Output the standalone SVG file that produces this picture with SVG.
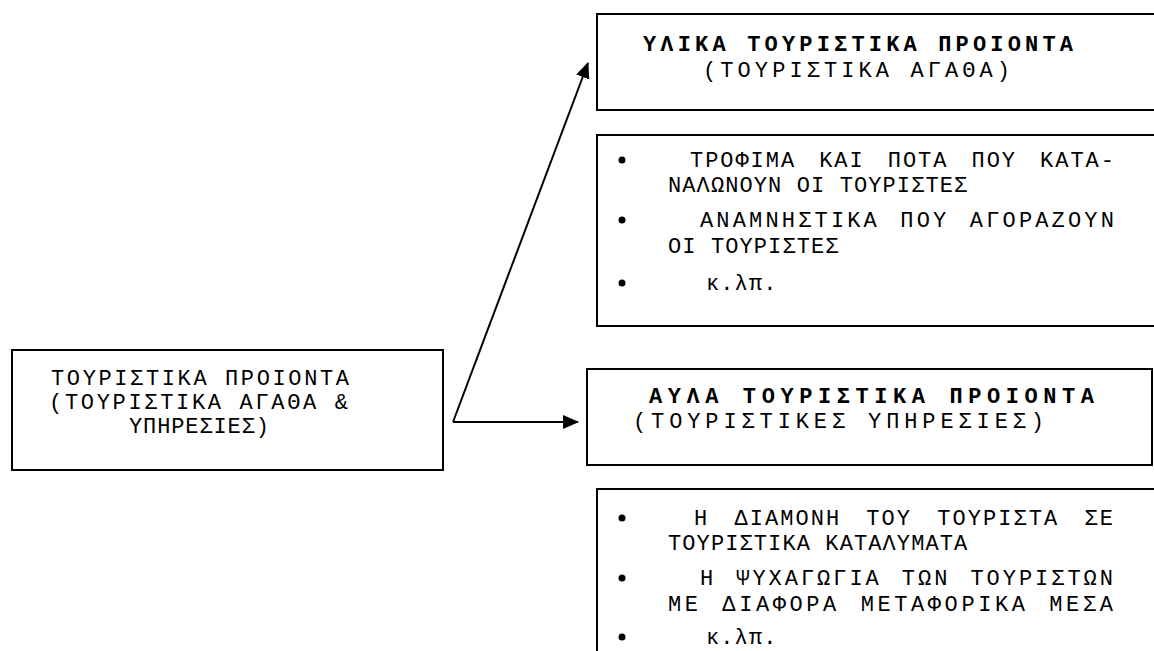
<svg xmlns="http://www.w3.org/2000/svg" width="1154" height="651" viewBox="0 0 1154 651">
<defs>
<style>
.box{fill:#fff;stroke:#000;stroke-width:2}
.t{font-family:"Liberation Mono","Courier New",monospace;font-size:22px;fill:#000}
.b{font-weight:bold}
.l{letter-spacing:1.1px}
.con{stroke:#000;stroke-width:2;fill:none}
</style>
<marker id="ah" markerUnits="userSpaceOnUse" markerWidth="16" markerHeight="16" viewBox="0 0 16 14" refX="15" refY="7" orient="auto">
<path d="M0,0 L16,7 L0,14 Z" fill="#000"/>
</marker>
</defs>
<g id="connectors">
<line class="con" x1="453" y1="422" x2="588" y2="63" marker-end="url(#ah)"/>
<line class="con" x1="453" y1="422" x2="578" y2="422" marker-end="url(#ah)"/>
</g>
<g id="node-main">
<rect class="box" x="12" y="350" width="431" height="120"/>
<text class="t" x="51" y="385" textLength="298" lengthAdjust="spacing">ΤΟΥΡΙΣΤΙΚΑ ΠΡΟΙΟΝΤΑ</text>
<text class="t" x="49" y="409" textLength="299" lengthAdjust="spacing">(ΤΟΥΡΙΣΤΙΚΑ ΑΓΑΘΑ &amp;</text>
<text class="t" x="129" y="433" textLength="140" lengthAdjust="spacing">ΥΠΗΡΕΣΙΕΣ)</text>
</g>
<g id="node-material">
<rect class="box" x="597" y="14" width="620" height="96"/>
<text class="t b" x="643" y="51" textLength="430" lengthAdjust="spacing">ΥΛΙΚΑ ΤΟΥΡΙΣΤΙΚΑ ΠΡΟΙΟΝΤΑ</text>
<text class="t" x="703" y="77" textLength="307" lengthAdjust="spacing">(ΤΟΥΡΙΣΤΙΚΑ ΑΓΑΘΑ)</text>
</g>
<g id="node-material-list">
<rect class="box" x="597" y="135" width="620" height="191"/>
<circle cx="622" cy="160" r="3.5"/>
<circle cx="622" cy="220" r="3.5"/>
<circle cx="622" cy="283" r="3.5"/>
<text class="t l" x="690" y="167" word-spacing="8" textLength="425" lengthAdjust="spacing">ΤΡΟΦΙΜΑ ΚΑΙ ΠΟΤΑ ΠΟΥ ΚΑΤΑ-</text>
<text class="t l" x="668" y="192">ΝΑΛΩΝΟΥΝ ΟΙ ΤΟΥΡΙΣΤΕΣ</text>
<text class="t l" x="700" y="227" word-spacing="4" textLength="415" lengthAdjust="spacing">ΑΝΑΜΝΗΣΤΙΚΑ ΠΟΥ ΑΓΟΡΑΖΟΥΝ</text>
<text class="t l" x="668" y="253">ΟΙ ΤΟΥΡΙΣΤΕΣ</text>
<text class="t l" x="706" y="290">κ.λπ.</text>
</g>
<g id="node-immaterial">
<rect class="box" x="587" y="369" width="565" height="96"/>
<text class="t b" x="649" y="403" textLength="445" lengthAdjust="spacing">ΑΥΛΑ ΤΟΥΡΙΣΤΙΚΑ ΠΡΟΙΟΝΤΑ</text>
<text class="t" x="633" y="428" textLength="411" lengthAdjust="spacing">(ΤΟΥΡΙΣΤΙΚΕΣ ΥΠΗΡΕΣΙΕΣ)</text>
</g>
<g id="node-immaterial-list">
<rect class="box" x="597" y="489" width="620" height="200"/>
<circle cx="622" cy="518" r="3.5"/>
<circle cx="622" cy="578" r="3.5"/>
<circle cx="622" cy="637" r="3.5"/>
<text class="t l" x="694" y="525" word-spacing="10" textLength="420" lengthAdjust="spacing">Η ΔΙΑΜΟΝΗ ΤΟΥ ΤΟΥΡΙΣΤΑ ΣΕ</text>
<text class="t l" x="668" y="550">ΤΟΥΡΙΣΤΙΚΑ ΚΑΤΑΛΥΜΑΤΑ</text>
<text class="t l" x="700" y="585" word-spacing="4" textLength="414" lengthAdjust="spacing">Η ΨΥΧΑΓΩΓΙΑ ΤΩΝ ΤΟΥΡΙΣΤΩΝ</text>
<text class="t l" x="668" y="611" word-spacing="4" textLength="446" lengthAdjust="spacing">ΜΕ ΔΙΑΦΟΡΑ ΜΕΤΑΦΟΡΙΚΑ ΜΕΣΑ</text>
<text class="t l" x="706" y="644">κ.λπ.</text>
</g>
</svg>
